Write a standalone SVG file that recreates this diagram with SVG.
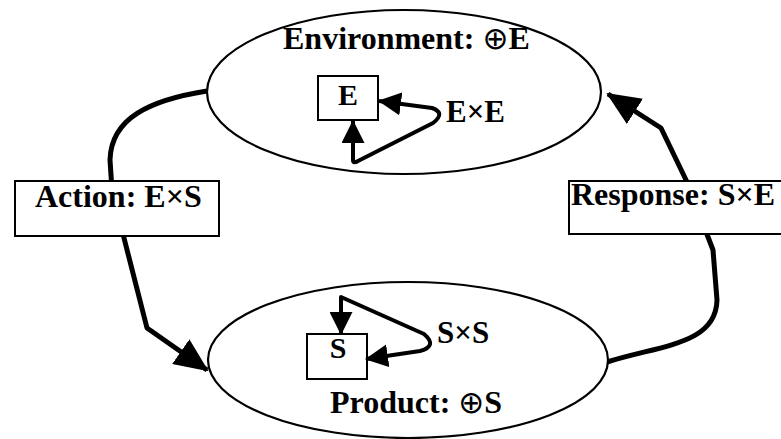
<svg xmlns="http://www.w3.org/2000/svg" width="781" height="439" viewBox="0 0 781 439">
  <style>
    .ell { fill: #fff; stroke: #000; stroke-width: 2.2; }
    .box { fill: #fff; stroke: #000; stroke-width: 2; }
    .conn { fill: none; stroke: #000; stroke-width: 5; stroke-linejoin: round; }
    .loop { fill: none; stroke: #000; stroke-width: 4; stroke-linejoin: round; }
    text { font-family: "Liberation Serif", "Times New Roman", serif; font-weight: bold; fill: #000; }
    .title { font-size: 32px; }
    .lbl { font-size: 32px; }
    .small { font-size: 31px; }
    .inbox { font-size: 30px; }
    .op { font-family: "DejaVu Sans", sans-serif; font-weight: normal; font-size: 31px; }
  </style>
  <defs>
    <marker id="bigArrow" viewBox="0 0 34 30" refX="32" refY="15" markerWidth="34" markerHeight="30" markerUnits="userSpaceOnUse" orient="auto">
      <path d="M0,0 L34,15 L0,30 z" fill="#000"/>
    </marker>
    <marker id="smallArrow" viewBox="0 0 23 23" refX="22" refY="11.5" markerWidth="23" markerHeight="23" markerUnits="userSpaceOnUse" orient="auto-start-reverse">
      <path d="M0,0 L23,11.5 L0,23 z" fill="#000"/>
    </marker>
  </defs>

  <!-- connectors between the two domains -->
  <g id="connectors">
    <path class="conn" d="M207,91 C150,100 111,118 110,160 L112,190 L124,238 L147,328 L207,370" marker-end="url(#bigArrow)"/>
    <path class="conn" d="M607,362 C660,345 716,345 717,300 L713,250 L687,182 L661,128 L608,94" marker-end="url(#bigArrow)"/>
  </g>

  <!-- environment domain -->
  <g id="environment">
    <ellipse class="ell" cx="404" cy="92" rx="197" ry="82"/>
    <text class="title" x="283" y="49">Environment: <tspan class="op">⊕</tspan>E</text>
    <rect class="box" x="318" y="76" width="60" height="44"/>
    <text class="inbox" x="348" y="105" text-anchor="middle">E</text>
    <path class="loop" d="M353,121 L353,160 Q353,164 358,161 L433,123 Q446,113 432,108 L379,101" marker-start="url(#smallArrow)" marker-end="url(#smallArrow)"/>
    <text class="small" x="446" y="122">E×E</text>
  </g>

  <!-- product domain -->
  <g id="product">
    <ellipse class="ell" cx="408" cy="360" rx="200" ry="78"/>
    <rect class="box" x="307" y="334" width="60" height="45"/>
    <text class="inbox" x="338" y="358" text-anchor="middle">S</text>
    <path class="loop" d="M341,334 L341,297 L424,334 Q438,346 420,351 L366,359" marker-start="url(#smallArrow)" marker-end="url(#smallArrow)"/>
    <text class="small" x="437" y="343">S×S</text>
    <text class="title" x="330" y="413">Product: <tspan class="op">⊕</tspan>S</text>
  </g>

  <!-- action label -->
  <g id="action">
    <rect class="box" x="15" y="181" width="204" height="55"/>
    <text class="lbl" x="35" y="207">Action: E×S</text>
  </g>

  <!-- response label -->
  <g id="response">
    <rect class="box" x="569" y="181" width="230" height="53"/>
    <text class="lbl" x="571" y="205">Response: S×E</text>
  </g>
</svg>
